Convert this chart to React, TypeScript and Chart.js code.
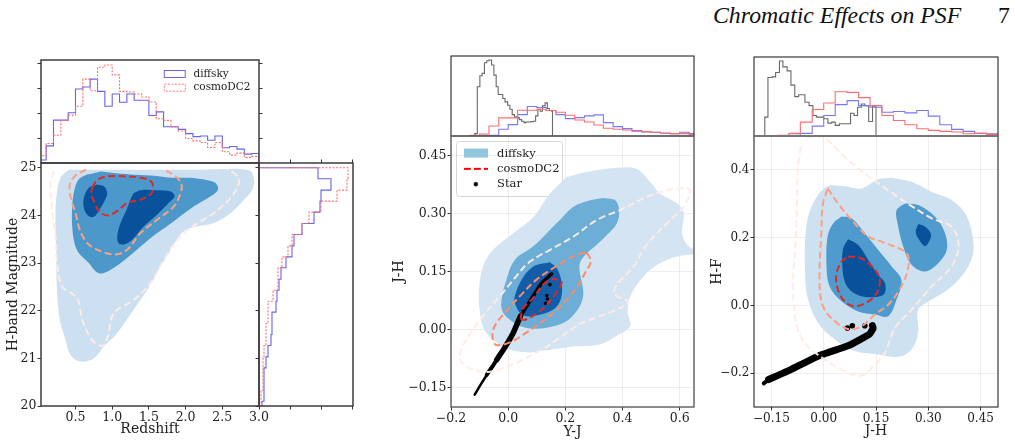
import { useEffect, useRef } from 'react';
import { Chart, registerables } from 'chart.js';

Chart.register(...registerables);
Chart.defaults.font.family = "'DejaVu Serif'";
Chart.defaults.color = '#222';

type Pair = [number, number];

// left panel: redshift vs H-band magnitude
const zEdges = [0, 0.1, 0.2, 0.3, 0.4, 0.5, 0.6, 0.7, 0.8, 0.9, 1, 1.1, 1.2, 1.3, 1.4, 1.5, 1.6, 1.7, 1.8, 1.9, 2, 2.1, 2.2, 2.3, 2.4, 2.5, 2.6, 2.7, 2.8, 2.9, 3];
const zHistDiffsky = [9, 52, 130, 130, 152, 224, 230, 254, 217, 172, 209, 184, 209, 190, 190, 144, 155, 110, 110, 102, 89, 80, 82, 69, 82, 46, 50, 42, 27, 29];
const zHistCosmo = [22, 59, 84, 129, 145, 172, 254, 219, 290, 297, 267, 217, 215, 209, 200, 185, 134, 129, 109, 97, 74, 67, 62, 47, 62, 34, 24, 30, 17, 20];
const magEdges = [25, 24.77, 24.53, 24.3, 24.07, 23.83, 23.6, 23.36, 23.13, 22.9, 22.66, 22.43, 22.2, 21.97, 21.73, 21.5, 21.27, 21.03, 20.8, 20.57, 20.33, 20.1, 19.87];
const magHistDiffsky = [59, 72, 62, 61, 55, 43, 35, 33, 27, 22, 20, 18, 17, 13, 13, 12, 9, 7, 5, 5, 5, 3];
const magHistCosmo = [89, 88, 78, 62, 50, 43, 33, 29, 23, 19, 19, 14, 9, 9, 7, 7, 5, 4, 4, 4, 2, 2];

const zmLight: Pair[] = [[0.409, 24.96], [0.295, 24.79], [0.236, 24.33], [0.227, 23.84], [0.236, 23.28], [0.241, 22.72], [0.259, 22.16], [0.295, 21.74], [0.364, 21.39], [0.409, 21.14], [0.5, 20.97], [0.614, 20.93], [0.75, 21], [0.886, 21.25], [1.045, 21.49], [1.227, 21.88], [1.386, 22.23], [1.523, 22.55], [1.659, 22.93], [1.773, 23.21], [1.864, 23.46], [1.977, 23.67], [2.159, 23.77], [2.386, 23.84], [2.614, 24.05], [2.795, 24.33], [2.909, 24.54], [2.932, 24.75], [2.864, 24.95], [2.205, 24.96], [1.295, 24.96]];
const zmMid: Pair[] = [[0.841, 24.92], [0.568, 24.79], [0.486, 24.54], [0.455, 24.19], [0.455, 23.77], [0.486, 23.42], [0.545, 23.21], [0.682, 23], [0.773, 22.83], [0.864, 22.78], [1.023, 22.9], [1.205, 23.11], [1.386, 23.35], [1.614, 23.63], [1.841, 23.88], [2.114, 24.19], [2.341, 24.4], [2.441, 24.54], [2.409, 24.68], [2.295, 24.74], [2.068, 24.79], [1.841, 24.79], [1.523, 24.84], [1.25, 24.86], [1.023, 24.89]];
const zmDarkA: Pair[] = [[0.795, 24.65], [0.682, 24.58], [0.614, 24.37], [0.614, 24.16], [0.668, 24], [0.75, 23.97], [0.827, 24.12], [0.895, 24.3], [0.932, 24.47], [0.886, 24.61]];
const zmDarkB: Pair[] = [[1.295, 24.47], [1.386, 24.53], [1.614, 24.53], [1.795, 24.5], [1.85, 24.4], [1.75, 24.23], [1.614, 24.02], [1.432, 23.77], [1.273, 23.49], [1.159, 23.39], [1.091, 23.41], [1.068, 23.56], [1.114, 23.84], [1.195, 24.12], [1.259, 24.37]];
const zmCosmoInner: Pair[] = [[0.727, 24.58], [0.795, 24.74], [0.932, 24.82], [1.159, 24.82], [1.386, 24.79], [1.523, 24.72], [1.559, 24.58], [1.523, 24.44], [1.386, 24.33], [1.205, 24.26], [1.068, 24.09], [0.932, 24], [0.818, 24.09], [0.764, 24.26], [0.714, 24.44]];
const zmCosmoMid: Pair[] = [[0.645, 24.96], [0.5, 24.84], [0.423, 24.65], [0.441, 24.33], [0.5, 24.05], [0.559, 23.7], [0.659, 23.42], [0.841, 23.25], [1.045, 23.18], [1.205, 23.28], [1.386, 23.63], [1.614, 23.91], [1.841, 24.19], [1.932, 24.47], [1.945, 24.65], [1.864, 24.82], [1.705, 24.96]];
const zmCosmoOuter: Pair[] = [[0.205, 24.93], [0.159, 24.68], [0.182, 24.12], [0.227, 23.56], [0.25, 23], [0.318, 22.51], [0.523, 22.26], [0.591, 21.81], [0.727, 21.39], [0.864, 21.26], [0.941, 21.46], [1.023, 21.95], [1.295, 22.23], [1.523, 22.58], [1.705, 23.07], [1.841, 23.39], [2.068, 23.74], [2.386, 24.05], [2.614, 24.37], [2.727, 24.68], [2.682, 24.86], [2.568, 24.96]];

// shared colour bins of the two right panels
const colorEdges = [-0.133, -0.1, -0.067, -0.033, 0, 0.033, 0.067, 0.1, 0.133, 0.167, 0.2, 0.233, 0.267, 0.3, 0.333, 0.367, 0.4, 0.433, 0.467, 0.5, 0.533, 0.567, 0.6, 0.633, 0.667];

// middle panel: Y-J vs J-H
const yjHistCosmo = [2, 6, 30, 54, 54, 77, 77, 80, 76, 71, 62, 48, 42, 33, 23, 20, 18, 14, 13, 11, 9, 7, 7, 5];
const yjHistDiffsky = [0, 2, 2, 20, 34, 64, 88, 85, 76, 64, 52, 55, 60, 63, 40, 28, 22, 16, 12, 11, 8, 7, 11, 7];
const yjStarEdges = [-0.117, -0.108, -0.099, -0.091, -0.083, -0.075, -0.067, -0.058, -0.05, -0.042, -0.035, -0.027, -0.019, -0.011, -0.002, 0.006, 0.014, 0.022, 0.03, 0.039, 0.047, 0.055, 0.063, 0.071, 0.08, 0.088, 0.096, 0.104, 0.112, 0.12, 0.129, 0.137, 0.144, 0.152, 0.155];
const yjStarHist = [7, 147, 180, 187, 219, 225, 227, 212, 182, 147, 124, 124, 112, 102, 92, 80, 64, 57, 55, 49, 44, 40, 42, 42, 43, 44, 60, 80, 74, 90, 99, 82, 76, 74];

const yjLight: Pair[] = [[0.205, 0.394], [0.275, 0.407], [0.38, 0.418], [0.45, 0.415], [0.497, 0.381], [0.532, 0.351], [0.591, 0.326], [0.614, 0.3], [0.608, 0.249], [0.626, 0.219], [0.655, 0.203], [0.655, 0.196], [0.591, 0.189], [0.532, 0.172], [0.474, 0.138], [0.427, 0.086], [0.418, 0.044], [0.427, 0.009], [0.38, -0.016], [0.322, -0.038], [0.228, -0.044], [0.123, -0.055], [0.076, -0.059], [-0.006, -0.05], [-0.041, -0.033], [-0.082, -0.003], [-0.099, 0.044], [-0.102, 0.103], [-0.088, 0.163], [-0.053, 0.206], [0.018, 0.249], [0.088, 0.291], [0.146, 0.351]];
const yjMid: Pair[] = [[0.333, 0.34], [0.374, 0.334], [0.388, 0.309], [0.38, 0.274], [0.345, 0.244], [0.31, 0.219], [0.275, 0.197], [0.251, 0.172], [0.251, 0.146], [0.263, 0.095], [0.251, 0.061], [0.205, 0.022], [0.135, 0.005], [0.076, 0.003], [0.029, 0.014], [-0.018, 0.044], [-0.023, 0.078], [-0.006, 0.129], [0.023, 0.18], [0.088, 0.215], [0.135, 0.249], [0.181, 0.283], [0.228, 0.317], [0.287, 0.334]];
const yjDark: Pair[] = [[0.146, 0.174], [0.17, 0.159], [0.187, 0.121], [0.184, 0.078], [0.158, 0.052], [0.088, 0.035], [0.047, 0.039], [0.023, 0.069], [0.023, 0.086], [0.047, 0.129], [0.088, 0.163]];
const yjCosmoInner: Pair[] = [[0.043, 0.028], [0.058, 0.025], [0.094, 0.039], [0.129, 0.059], [0.164, 0.091], [0.187, 0.121], [0.172, 0.129], [0.146, 0.129], [0.117, 0.112], [0.088, 0.082], [0.053, 0.056]];
const yjCosmoMid: Pair[] = [[0.275, 0.199], [0.289, 0.176], [0.269, 0.146], [0.246, 0.116], [0.216, 0.086], [0.172, 0.052], [0.129, 0.026], [0.064, -0.008], [0.006, -0.033], [-0.041, -0.04], [-0.055, -0.021], [-0.047, 0.009], [-0.006, 0.048], [0.047, 0.091], [0.099, 0.129], [0.158, 0.159], [0.216, 0.185], [0.257, 0.197]];
const yjCosmoOuter: Pair[] = [[0.626, 0.367], [0.637, 0.356], [0.614, 0.317], [0.567, 0.283], [0.52, 0.249], [0.48, 0.215], [0.439, 0.163], [0.38, 0.116], [0.372, 0.091], [0.421, 0.071], [0.38, 0.052], [0.322, 0.035], [0.251, 0.014], [0.181, -0.021], [0.111, -0.055], [0.018, -0.089], [-0.064, -0.109], [-0.129, -0.102], [-0.17, -0.076], [-0.152, -0.033], [-0.088, 0.035], [-0.029, 0.086], [0.029, 0.138], [0.07, 0.172], [0.146, 0.206], [0.228, 0.24], [0.31, 0.283], [0.392, 0.309], [0.485, 0.343], [0.556, 0.36]];
const yjStarLow: Pair[] = [[-0.117, -0.168], [-0.091, -0.136], [-0.065, -0.106]];
const yjStarLower: Pair[] = [[-0.075, -0.117], [-0.053, -0.093], [-0.035, -0.072]];
const yjStarMid: Pair[] = [[-0.04, -0.078], [-0.015, -0.05], [0.018, -0.008], [0.043, 0.035]];
const yjStarTop: Pair[] = [[0.043, 0.035], [0.08, 0.078], [0.117, 0.12], [0.152, 0.144]];
const yjStarDots: Pair[] = [[0.146, 0.116], [0.135, 0.088], [0.137, 0.079], [0.131, 0.068]];

// right panel: J-H vs H-F
const jhHistCosmo = [2, 8, 42, 80, 100, 134, 132, 116, 92, 62, 47, 34, 22, 17, 14, 12, 7, 8, 5];
const jhHistDiffsky = [0, 2, 8, 30, 62, 95, 107, 92, 87, 72, 74, 70, 77, 60, 34, 20, 14, 8, 7];
const jhStarEdges = [-0.169, -0.16, -0.148, -0.138, -0.127, -0.117, -0.105, -0.094, -0.083, -0.072, -0.054, -0.042, -0.031, -0.021, 0, 0.012, 0.023, 0.033, 0.045, 0.055, 0.077, 0.087, 0.097, 0.108, 0.118, 0.129, 0.14, 0.15];
const jhStarHist = [57, 177, 179, 192, 227, 209, 197, 154, 119, 125, 102, 92, 62, 57, 52, 39, 42, 32, 37, 37, 69, 62, 87, 97, 92, 44, 90];

const jhLight: Pair[] = [[0.195, 0.377], [0.252, 0.365], [0.31, 0.335], [0.367, 0.311], [0.411, 0.262], [0.43, 0.174], [0.415, 0.115], [0.367, 0.056], [0.31, 0.017], [0.271, -0.013], [0.271, -0.081], [0.252, -0.13], [0.214, -0.152], [0.156, -0.145], [0.089, -0.135], [0.032, -0.101], [-0.016, -0.052], [-0.045, 0.017], [-0.053, 0.085], [-0.052, 0.213], [-0.035, 0.291], [0.008, 0.35], [0.06, 0.352], [0.108, 0.345], [0.156, 0.372]];
const jhMidA: Pair[] = [[0.051, 0.262], [0.08, 0.257], [0.118, 0.213], [0.156, 0.164], [0.195, 0.115], [0.223, 0.075], [0.209, 0.017], [0.185, -0.032], [0.147, -0.027], [0.099, -0.018], [0.051, 0.012], [0.017, 0.056], [0.008, 0.115], [0.011, 0.203], [0.027, 0.242]];
const jhMidB: Pair[] = [[0.233, 0.301], [0.271, 0.296], [0.319, 0.262], [0.348, 0.213], [0.353, 0.164], [0.329, 0.125], [0.291, 0.1], [0.252, 0.12], [0.228, 0.174], [0.212, 0.242], [0.209, 0.281]];
const jhDarkA: Pair[] = [[0.07, 0.195], [0.099, 0.178], [0.128, 0.134], [0.156, 0.09], [0.176, 0.066], [0.171, 0.031], [0.118, 0.025], [0.08, 0.041], [0.06, 0.071], [0.053, 0.125], [0.056, 0.169]];
const jhDarkB: Pair[] = [[0.271, 0.24], [0.291, 0.232], [0.308, 0.208], [0.291, 0.175], [0.271, 0.198], [0.264, 0.218]];
const jhCosmoInner: Pair[] = [[0.07, 0.144], [0.108, 0.139], [0.147, 0.105], [0.161, 0.075], [0.152, 0.036], [0.128, 0.012], [0.089, -0.003], [0.06, 0.012], [0.041, 0.046], [0.036, 0.09], [0.051, 0.129]];
const jhCosmoMid: Pair[] = [[0.012, 0.345], [0.041, 0.301], [0.08, 0.252], [0.128, 0.203], [0.166, 0.188], [0.238, 0.154], [0.243, 0.115], [0.223, 0.056], [0.185, 0.002], [0.147, -0.027], [0.108, -0.062], [0.07, -0.07], [0.032, -0.047], [-0.002, -0.003], [-0.012, 0.066], [-0.007, 0.213], [-0.002, 0.301]];
const jhCosmoOuter: Pair[] = [[-0.05, 0.497], [-0.002, 0.497], [0.06, 0.438], [0.118, 0.389], [0.185, 0.34], [0.233, 0.306], [0.31, 0.257], [0.367, 0.232], [0.387, 0.178], [0.367, 0.115], [0.31, 0.056], [0.252, -0.013], [0.204, -0.067], [0.176, -0.14], [0.147, -0.175], [0.108, -0.207], [0.06, -0.194], [0.003, -0.16], [-0.055, -0.111], [-0.079, -0.052], [-0.088, 0.066], [-0.079, 0.213], [-0.074, 0.409], [-0.064, 0.477]];
const jhStarTip: Pair[] = [[-0.172, -0.23], [-0.15, -0.213]];
const jhStarBand: Pair[] = [[-0.158, -0.219], [-0.093, -0.189], [-0.012, -0.148], [0.07, -0.119], [0.104, -0.101], [0.132, -0.084], [0.142, -0.067], [0.14, -0.06]];
const jhStarDots: Pair[] = [[0.082, -0.06], [0.118, -0.06], [0.068, -0.067]];

const BLUE_HIST = 'rgb(100,100,240)';
const RED_HIST = 'rgb(255,110,110)';
const GREY_HIST = 'rgb(105,105,105)';
const INNER_RED = 'rgb(220,40,40)';
const MID_SALMON = 'rgb(252,160,130)';
const OUTER_PINK = 'rgba(255,236,228,0.95)';

const toPoints = (pairs: Pair[]) => pairs.map(([x, y]) => ({ x, y }));
const closed = (pairs: Pair[]) => toPoints([...pairs, pairs[0]]);

const steps = (edges: number[], vals: number[]) => {
  const out = [{ x: edges[0], y: 0 }];
  vals.forEach((v, i) => {
    out.push({ x: edges[i], y: v }, { x: edges[i + 1], y: v });
  });
  out.push({ x: edges[vals.length], y: 0 });
  return out;
};

const sidewaysSteps = (edges: number[], vals: number[]) =>
  steps(edges, vals).map((p) => ({ x: p.y, y: p.x }));

const area = (pairs: Pair[], color: string) => ({
  data: closed(pairs),
  showLine: true,
  fill: 'shape',
  backgroundColor: color,
  borderWidth: 0,
  tension: 0.35,
  pointRadius: 0,
});

const dashed = (data: { x: number; y: number }[], color: string) => ({
  data,
  showLine: true,
  fill: false,
  borderColor: color,
  borderWidth: 2,
  borderDash: [7, 3.5],
  tension: 0.35,
  pointRadius: 0,
});

const stepLine = (data: { x: number; y: number }[], color: string, dash?: number[]) => ({
  data,
  showLine: true,
  fill: false,
  borderColor: color,
  borderWidth: 1.1,
  borderDash: dash || [],
  tension: 0,
  pointRadius: 0,
});

const stroke = (pairs: Pair[], width: number) => ({
  data: toPoints(pairs),
  showLine: true,
  fill: false,
  borderColor: '#000',
  borderWidth: width,
  borderCapStyle: 'round',
  borderJoinStyle: 'round',
  tension: 0.15,
  pointRadius: 0,
});

const dots = (pairs: Pair[], radius: number) => ({
  data: toPoints(pairs),
  showLine: false,
  backgroundColor: '#000',
  borderWidth: 0,
  pointRadius: radius,
});

const swatch = (draw: (ctx: CanvasRenderingContext2D) => void) => {
  const c = document.createElement('canvas');
  c.width = 24;
  c.height = 12;
  const ctx = c.getContext('2d');
  if (ctx) draw(ctx);
  return c;
};

const outlineSwatch = (color: string, dash: number[]) =>
  swatch((ctx) => {
    ctx.strokeStyle = color;
    ctx.lineWidth = 1;
    ctx.setLineDash(dash);
    ctx.strokeRect(1.5, 2.5, 21, 7);
  });

const legendItem = (text: string, pointStyle: HTMLCanvasElement) => ({
  text,
  pointStyle,
  lineWidth: 0,
  hidden: false,
  fontColor: '#222',
});

type AxisSpec = {
  id: string;
  position: string;
  min: number;
  max: number;
  ticks: number[];
  labels?: string[];
  title?: string;
  grid?: boolean;
  font?: number;
};

type PanelSpec = {
  canvas: [number, number, number, number];
  plot: [number, number, number, number];
  xRange: [number, number];
  yRange: [number, number];
  layers: any[];
  axes: AxisSpec[];
  frame: { color: string; width: number; topColor?: string; topWidth?: number };
  legend?: { items: any[]; x: number; y: number; size: number; gap: number; boxWidth: number; box?: [number, number, number, number] };
};

const framePlugin = {
  id: 'panelFrame',
  afterDatasetsDraw(chart: any, _args: any, opts: any) {
    const { left, top, right, bottom } = chart.chartArea;
    const { ctx } = chart;
    ctx.save();
    ctx.strokeStyle = opts.color;
    ctx.lineWidth = opts.width;
    ctx.strokeRect(left, top, right - left, bottom - top);
    if (opts.topColor) {
      ctx.strokeStyle = opts.topColor;
      ctx.lineWidth = opts.topWidth;
      ctx.beginPath();
      ctx.moveTo(left, top);
      ctx.lineTo(right, top);
      ctx.stroke();
    }
    ctx.restore();
  },
};

// legend is the stock one, moved to where the reference has it
const legendPlacePlugin = {
  id: 'legendPlace',
  afterLayout(chart: any, _args: any, opts: any) {
    const l = chart.legend;
    if (!l || opts.x === undefined) return;
    l.left = opts.x;
    l.top = opts.y;
    l.right = opts.x + l.width + 60;
    l.bottom = opts.y + l.height + 20;
  },
  beforeDraw(chart: any, _args: any, opts: any) {
    if (!opts.box) return;
    const [x, y, w, h] = opts.box;
    const { ctx } = chart;
    ctx.save();
    ctx.fillStyle = 'rgba(255,255,255,0.8)';
    ctx.strokeStyle = 'rgb(215,215,215)';
    ctx.lineWidth = 1;
    ctx.beginPath();
    ctx.roundRect(x, y, w, h, 3);
    ctx.fill();
    ctx.stroke();
    ctx.restore();
  },
};

const Panel = ({ spec }: { spec: PanelSpec }) => {
  const canvasRef = useRef<HTMLCanvasElement>(null);

  useEffect(() => {
    if (!canvasRef.current) return;
    const [cl, ct, cr, cb] = spec.canvas;
    const [pl, pt, pr, pb] = spec.plot;
    const margin: any = { left: pl - cl, top: pt - ct, right: cr - pr, bottom: cb - pb };
    const padding: any = { ...margin };
    const scales: any = {
      x: { display: false, type: 'linear', min: spec.xRange[0], max: spec.xRange[1] },
      y: { display: false, type: 'linear', min: spec.yRange[0], max: spec.yRange[1] },
    };

    spec.axes.forEach((a) => {
      const horizontal = a.position === 'top' || a.position === 'bottom';
      padding[a.position] = 0;
      scales[a.id] = {
        type: 'linear',
        position: a.position,
        min: a.min,
        max: a.max,
        afterBuildTicks: (s: any) => {
          s.ticks = a.ticks.map((value) => ({ value }));
        },
        afterFit: (s: any) => {
          if (horizontal) s.height = margin[a.position];
          else s.width = margin[a.position];
        },
        border: { display: false },
        grid: {
          drawOnChartArea: !!a.grid,
          color: 'rgba(176,176,176,0.22)',
          tickColor: '#333',
          tickLength: 3.5,
          tickWidth: 1,
          drawTicks: true,
        },
        ticks: {
          display: !!a.labels,
          autoSkip: false,
          maxRotation: 0,
          padding: 1,
          color: '#222',
          font: { size: a.font || 12 },
          callback: (_v: any, i: number) => (a.labels ? a.labels[i] : ''),
        },
        title: a.title
          ? { display: true, text: a.title, padding: 0, color: '#222', font: { size: 14 } }
          : { display: false },
      };
    });

    const legend = spec.legend;
    const chart = new Chart(canvasRef.current, {
      type: 'scatter',
      data: { datasets: [...spec.layers].reverse() },
      options: {
        animation: false,
        responsive: false,
        layout: { padding },
        scales,
        plugins: {
          tooltip: { enabled: false },
          legend: legend
            ? {
                display: true,
                position: 'chartArea',
                align: 'start',
                labels: {
                  usePointStyle: true,
                  pointStyleWidth: legend.boxWidth,
                  padding: legend.gap,
                  font: { size: legend.size },
                  generateLabels: () => legend.items,
                },
              }
            : { display: false },
          panelFrame: spec.frame,
          legendPlace: legend ? { x: legend.x - cl, y: legend.y - ct, box: legend.box && [legend.box[0] - cl, legend.box[1] - ct, legend.box[2], legend.box[3]] } : {},
        },
      } as any,
      plugins: [framePlugin, legendPlacePlugin],
    } as any);

    return () => {
      chart.destroy();
    };
  }, [spec]);

  const [cl, ct, cr, cb] = spec.canvas;
  return (
    <canvas
      ref={canvasRef}
      width={cr - cl}
      height={cb - ct}
      style={{ position: 'absolute', left: cl, top: ct, width: cr - cl, height: cb - ct }}
    />
  );
};

const FRAME_DARK = { color: '#3c3c3c', width: 1.5 };

const panels: PanelSpec[] = [
  // top histogram, left panel
  {
    canvas: [30, 50, 270, 170],
    plot: [41, 60, 259, 163],
    xRange: [0.03, 3],
    yRange: [0, 312],
    frame: FRAME_DARK,
    axes: [
      { id: 'y', position: 'left', min: 0, max: 312, ticks: [75, 150, 225, 300] },
      { id: 'y2', position: 'right', min: 0, max: 312, ticks: [75, 150, 225, 300] },
    ],
    layers: [
      stepLine(steps(zEdges, zHistDiffsky), BLUE_HIST),
      stepLine(steps(zEdges, zHistCosmo), RED_HIST, [2, 1.5]),
    ],
    legend: {
      x: 158,
      y: 65.5,
      size: 10.5,
      gap: 3.2,
      boxWidth: 27,
      items: [
        legendItem('diffsky', outlineSwatch(BLUE_HIST, [])),
        legendItem('cosmoDC2', outlineSwatch(RED_HIST, [2, 1.5])),
      ],
    },
  },
  // main, left panel
  {
    canvas: [5, 150, 275, 438],
    plot: [41, 163, 259, 406],
    xRange: [0.03, 3],
    yRange: [20, 25.1],
    frame: FRAME_DARK,
    axes: [
      { id: 'x', position: 'bottom', min: 0.03, max: 3, ticks: [0.5, 1, 1.5, 2, 2.5, 3], labels: ['0.5', '1.0', '1.5', '2.0', '2.5', '3.0'], title: 'Redshift', font: 12.5 },
      { id: 'y', position: 'left', min: 20, max: 25.1, ticks: [20, 21, 22, 23, 24, 25], labels: ['20', '21', '22', '23', '24', '25'], title: 'H-band Magnitude', font: 12.5 },
    ],
    layers: [
      area(zmLight, 'rgb(204,224,241)'),
      area(zmMid, 'rgb(76,152,203)'),
      area(zmDarkA, 'rgb(8,82,156)'),
      area(zmDarkB, 'rgb(8,82,156)'),
      dashed(toPoints(zmCosmoOuter), OUTER_PINK),
      dashed(toPoints(zmCosmoMid), MID_SALMON),
      dashed(closed(zmCosmoInner), INNER_RED),
    ],
  },
  // side histogram, left panel
  {
    canvas: [250, 150, 362, 416],
    plot: [259, 163, 353, 406],
    xRange: [0, 94],
    yRange: [20, 25.1],
    frame: FRAME_DARK,
    axes: [
      { id: 'y', position: 'left', min: 20, max: 25.1, ticks: [20, 21, 22, 23, 24, 25] },
      { id: 'x', position: 'bottom', min: 0, max: 94, ticks: [31, 62, 93] },
      { id: 'x2', position: 'top', min: 0, max: 94, ticks: [31, 62, 93] },
    ],
    layers: [
      stepLine(sidewaysSteps(magEdges, magHistDiffsky), BLUE_HIST),
      stepLine(sidewaysSteps(magEdges, magHistCosmo), RED_HIST, [2, 1.5]),
    ],
  },
  // top histogram, middle panel
  {
    canvas: [445, 50, 700, 140],
    plot: [451, 56, 694, 136],
    xRange: [-0.2, 0.65],
    yRange: [0, 239],
    frame: { color: '#111', width: 1 },
    axes: [],
    layers: [
      stepLine(steps(yjStarEdges, yjStarHist), GREY_HIST),
      stepLine(steps(colorEdges, yjHistDiffsky), 'rgb(120,120,250)'),
      stepLine(steps(colorEdges, yjHistCosmo), RED_HIST),
    ],
  },
  // main, middle panel
  {
    canvas: [391, 125, 710, 441],
    plot: [451, 136, 694, 407],
    xRange: [-0.2, 0.65],
    yRange: [-0.2, 0.5],
    frame: { color: '#666', width: 1.5 },
    axes: [
      { id: 'x', position: 'bottom', min: -0.2, max: 0.65, ticks: [-0.2, 0, 0.2, 0.4, 0.6], labels: ['\u22120.2', '0.0', '0.2', '0.4', '0.6'], title: 'Y-J', grid: true, font: 12.5 },
      { id: 'y', position: 'left', min: -0.2, max: 0.5, ticks: [-0.15, 0, 0.15, 0.3, 0.45], labels: ['\u22120.15', '0.00', '0.15', '0.30', '0.45'], title: 'J-H', grid: true, font: 12.5 },
    ],
    layers: [
      area(yjLight, 'rgb(212,228,243)'),
      area(yjMid, 'rgb(108,174,214)'),
      area(yjDark, 'rgb(18,92,168)'),
      stroke(yjStarLow, 2.5),
      stroke(yjStarLower, 4),
      stroke(yjStarMid, 5.5),
      stroke(yjStarTop, 3.5),
      dots(yjStarDots, 1.8),
      dashed(closed(yjCosmoOuter), OUTER_PINK),
      dashed(closed(yjCosmoMid), 'rgb(250,140,105)'),
      dashed(closed(yjCosmoInner), INNER_RED),
    ],
    legend: {
      x: 456.5,
      y: 144,
      size: 11.5,
      gap: 3.8,
      boxWidth: 31,
      box: [456.5, 141.5, 106, 55],
      items: [
        legendItem('diffsky', swatch((ctx) => {
          ctx.fillStyle = 'rgb(146,197,222)';
          ctx.fillRect(0, 1, 24, 9);
        })),
        legendItem('cosmoDC2', swatch((ctx) => {
          ctx.strokeStyle = 'rgb(255,0,0)';
          ctx.lineWidth = 2;
          ctx.setLineDash([7, 3]);
          ctx.beginPath();
          ctx.moveTo(0, 6);
          ctx.lineTo(24, 6);
          ctx.stroke();
        })),
        legendItem('Star', swatch((ctx) => {
          ctx.fillStyle = '#000';
          ctx.beginPath();
          ctx.arc(12, 6, 2.2, 0, Math.PI * 2);
          ctx.fill();
        })),
      ],
    },
  },
  // top histogram, right panel
  {
    canvas: [748, 50, 1004, 140],
    plot: [754, 57, 998, 136],
    xRange: [-0.2, 0.5],
    yRange: [0, 239],
    frame: { color: '#111', width: 1 },
    axes: [],
    layers: [
      stepLine(steps(jhStarEdges, jhStarHist), GREY_HIST),
      stepLine(steps(colorEdges.slice(0, 20), jhHistDiffsky), 'rgb(120,120,250)'),
      stepLine(steps(colorEdges.slice(0, 20), jhHistCosmo), RED_HIST),
    ],
  },
  // main, right panel
  {
    canvas: [709, 125, 1012, 440],
    plot: [754, 136, 998, 407],
    xRange: [-0.2, 0.5],
    yRange: [-0.3, 0.5],
    frame: { color: '#111', width: 1, topColor: '#777', topWidth: 2 },
    axes: [
      { id: 'x', position: 'bottom', min: -0.2, max: 0.5, ticks: [-0.15, 0, 0.15, 0.3, 0.45], labels: ['\u22120.15', '0.00', '0.15', '0.30', '0.45'], title: 'J-H', grid: true, font: 12 },
      { id: 'y', position: 'left', min: -0.3, max: 0.5, ticks: [-0.2, 0, 0.2, 0.4], labels: ['\u22120.2', '0.0', '0.2', '0.4'], title: 'H-F', grid: true, font: 12 },
    ],
    layers: [
      area(jhLight, 'rgb(206,225,241)'),
      area(jhMidA, 'rgb(80,155,205)'),
      area(jhMidB, 'rgb(80,155,205)'),
      area(jhDarkA, 'rgb(8,82,156)'),
      area(jhDarkB, 'rgb(8,82,156)'),
      stroke(jhStarTip, 4),
      stroke(jhStarBand, 7),
      dots(jhStarDots, 2.8),
      dashed(toPoints(jhCosmoOuter), OUTER_PINK),
      dashed(closed(jhCosmoMid), MID_SALMON),
      dashed(closed(jhCosmoInner), INNER_RED),
    ],
  },
];

const headerStyle: any = {
  position: 'absolute',
  top: 0,
  fontFamily: "'Liberation Serif'",
  fontSize: 23.8,
  lineHeight: '30px',
  color: '#111',
  whiteSpace: 'nowrap',
};

export default function App() {
  return (
    <div style={{ position: 'absolute', left: 0, top: 0, width: 1015, height: 444, overflow: 'hidden', background: '#fff' }}>
      <div style={{ ...headerStyle, left: 713, fontStyle: 'italic' }}>Chromatic Effects on PSF</div>
      <div style={{ ...headerStyle, left: 998 }}>7</div>
      {panels.map((spec, i) => (
        <Panel key={i} spec={spec} />
      ))}
    </div>
  );
}
